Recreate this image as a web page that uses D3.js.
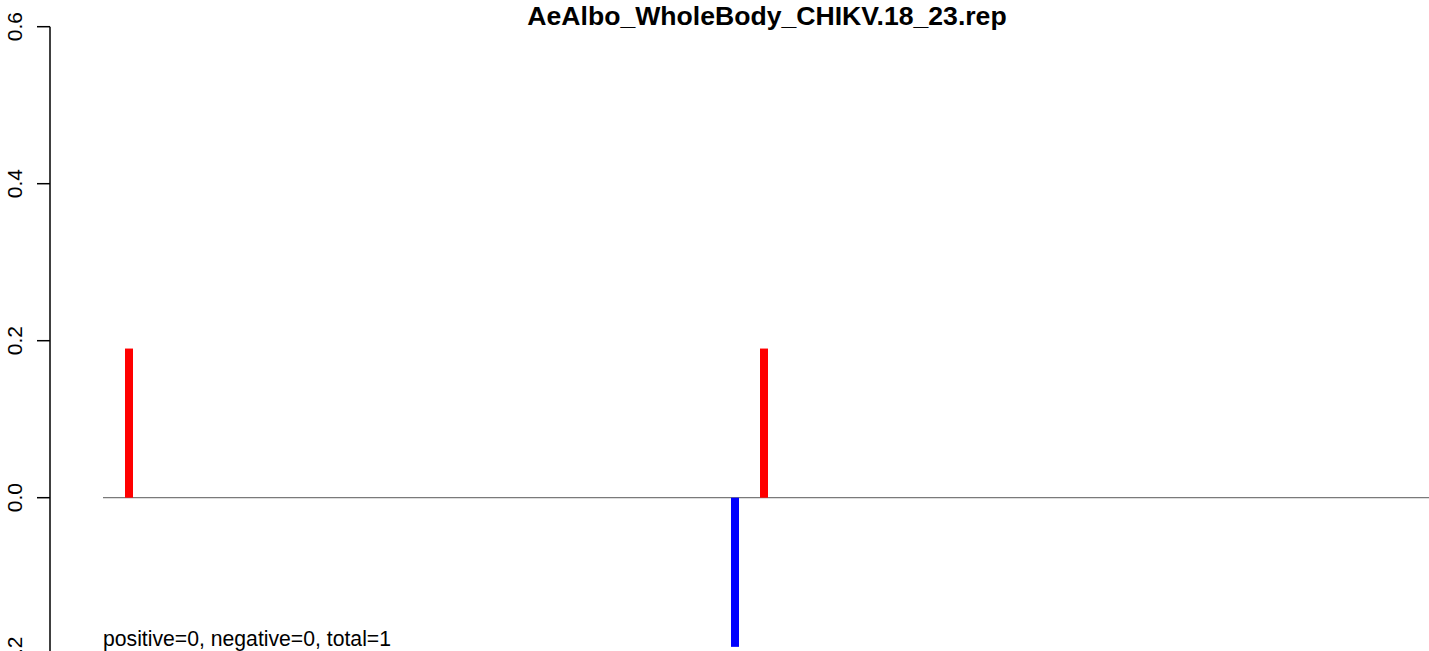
<!DOCTYPE html>
<html>
<head>
<meta charset="utf-8">
<script src="https://cdn.jsdelivr.net/npm/d3@7"></script>
<style>
  html, body { margin: 0; padding: 0; background: #fff; }
  svg { display: block; }
  text { font-family: "Liberation Sans", Arial, sans-serif; }
</style>
</head>
<body>
<script>
// ---- data ----
const titleText = "AeAlbo_WholeBody_CHIKV.18_23.rep";
const noteText = "positive=0, negative=0, total=1";
const positions = [26, 632, 661];      // position along the sequence
const values = [0.19, -0.19, 0.19];    // bar heights
const xExtent = [0, 1326];
const yTicks = [-0.2, 0.0, 0.2, 0.4, 0.6];

const W = 1429, H = 651;
const svg = d3.select("body").append("svg").attr("width", W).attr("height", H);

const x = d3.scaleLinear().domain(xExtent).range([103, 1429]);
const y = d3.scaleLinear().domain([0, 0.6]).range([497.7, 26.7]);

// y axis
const axisG = svg.append("g").attr("transform", "translate(50,0)");
axisG.append("line")
  .attr("x1", 0).attr("x2", 0)
  .attr("y1", y(0.6)).attr("y2", y(-0.2))
  .attr("stroke", "#000").attr("stroke-width", 1.5);
axisG.selectAll("line.tick").data(yTicks).enter().append("line")
  .attr("class", "tick")
  .attr("x1", -13).attr("x2", 0)
  .attr("y1", d => y(d)).attr("y2", d => y(d))
  .attr("stroke", "#000").attr("stroke-width", 1.5);
axisG.selectAll("text.tl").data(yTicks).enter().append("text")
  .attr("class", "tl")
  .attr("transform", d => `translate(-28,${y(d)}) rotate(-90)`)
  .attr("text-anchor", "middle")
  .attr("font-size", 21)
  .text(d => d3.format(".1f")(d).replace("−", "-"));

// baseline
svg.append("line")
  .attr("x1", x(xExtent[0])).attr("x2", x(xExtent[1]))
  .attr("y1", y(0)).attr("y2", y(0))
  .attr("stroke", "#7a7a7a").attr("stroke-width", 1.2);

// bars
const data = positions.map((p, i) => ({p, v: values[i]}));
svg.selectAll("rect.bar").data(data).enter().append("rect")
  .attr("class", "bar")
  .attr("x", d => x(d.p) - 4)
  .attr("width", 8)
  .attr("y", d => y(Math.max(0, d.v)))
  .attr("height", d => Math.abs(y(d.v) - y(0)))
  .attr("fill", d => d.v >= 0 ? "#ff0000" : "#0000ff");

// title
svg.append("text")
  .attr("x", 767).attr("y", 25)
  .attr("text-anchor", "middle")
  .attr("font-size", 26.6)
  .attr("font-weight", "bold")
  .text(titleText);

// note
svg.append("text")
  .attr("x", 103).attr("y", 646)
  .attr("font-size", 21.2)
  .text(noteText);
</script>
</body>
</html>
